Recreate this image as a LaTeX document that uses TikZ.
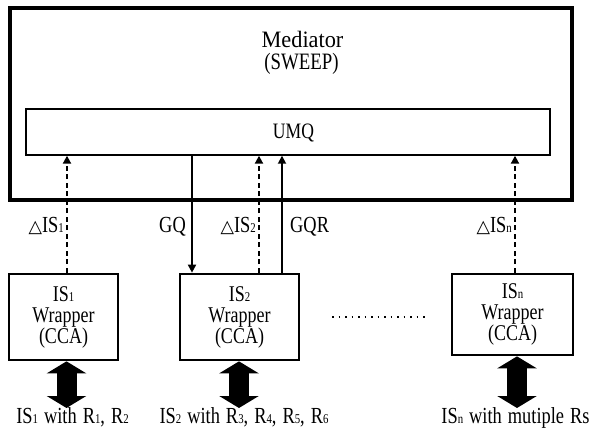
\documentclass[tikz,border=0pt]{standalone}
\usepackage{fontspec}
\setmainfont{Liberation Serif}[FakeStretch=0.8]
\newfontfamily\medfont{Liberation Serif}[FakeStretch=0.95]
\newfontfamily\trifont{DejaVu Sans}
\usetikzlibrary{arrows.meta}
% small index digits/letters set on the baseline
\newcommand\lowix[1]{{\fontsize{13.5}{13.5}\selectfont #1}}
\newcommand\dlt{{\trifont\fontsize{17.5}{17.5}\selectfont △}}
% wider word spacing for the source captions
\newcommand\widesp{\spaceskip=6pt\relax}
\begin{document}
\begin{tikzpicture}[x=1pt,y=-1pt,
  txt/.style={inner sep=0pt, font=\fontsize{23}{23}\selectfont},
  srctxt/.style={inner sep=0pt, font=\fontsize{23}{23}\selectfont\widesp},
  frame/.style={draw, line width=4pt, inner sep=0pt},
  umqbox/.style={draw, line width=1.4pt, inner sep=0pt},
  wbox/.style={draw, line width=2.7pt, inner sep=0pt, align=center,
    font=\fontsize{22.5}{21}\selectfont},
  query/.style={line width=1.7pt, -{Triangle[width=8pt,length=8pt]}},
  update/.style={line width=2pt, dash pattern=on 5pt off 3.5pt,
    -{Triangle[width=8pt,length=8pt]}},
  link/.style={line width=20pt,
    {Triangle[width=39pt,length=12pt]}-{Triangle[width=39pt,length=12pt]}},
  dots/.style={line width=1.8pt, dash pattern=on 1.8pt off 4.7pt}
]
\useasboundingbox (0,0) rectangle (589,430);

% mediator frame and its query manager
\node[frame, minimum width=562pt, minimum height=192pt] (med) at (291,104) {};
\node[txt, anchor=base, font=\medfont\fontsize{23.5}{23.5}\selectfont] (medname) at (302.5,48) {Mediator};
\node[txt, anchor=base, font=\fontsize{23.5}{23.5}\selectfont] (medsub) at (301.5,70) {(SWEEP)};
\node[umqbox, minimum width=524pt, minimum height=46pt] (umq) at (288,132) {};
\node[txt, anchor=base, font=\fontsize{22}{22}\selectfont] (umqname) at (293.5,139) {UMQ};

% wrappers
\node[wbox, minimum width=109pt, minimum height=86pt] (w1) at (63.5,317) {IS\lowix{1}\\Wrapper\\(CCA)};
\node[wbox, minimum width=119pt, minimum height=86pt] (w2) at (239.5,317) {IS\lowix{2}\\Wrapper\\(CCA)};
\node[wbox, minimum width=121pt, minimum height=81pt] (wn) at (512.5,314.5) {IS\lowix{n}\\Wrapper\\(CCA)};

% connectors between wrappers and UMQ
\draw[update] ([xshift=3.5pt]w1.north) -- ([xshift=3.5pt]w1.north |- umq.south);
\draw[query] ([xshift=-47.5pt]w2.north |- umq.south) -- ([xshift=-47.5pt]w2.north);
\draw[update] ([xshift=19.5pt]w2.north) -- ([xshift=19.5pt]w2.north |- umq.south);
\draw[query] ([xshift=42.5pt]w2.north) -- ([xshift=42.5pt]w2.north |- umq.south);
\draw[update] ([xshift=2.5pt]wn.north) -- ([xshift=2.5pt]wn.north |- umq.south);

% connector labels
\node[txt, anchor=base east] (l1) at (64,233) {\dlt IS\lowix{1}};
\node[txt, anchor=base east] (lgq) at (186,233) {GQ};
\node[txt, anchor=base east] (l2) at (256,233) {\dlt IS\lowix{2}};
\node[txt, anchor=base west] (lgqr) at (290,233) {GQR};
\node[txt, anchor=base east] (ln) at (512,233) {\dlt IS\lowix{n}};

% ellipsis between wrappers
\coordinate (dotl) at (332,317);
\coordinate (dotr) at (428,317);
\draw[dots] (dotl) -- (dotr);

% sources below the wrappers
\node[srctxt, anchor=base] (s1) at (72.5,423) {IS\lowix{1} with R\lowix{1}, R\lowix{2}};
\node[srctxt, anchor=base] (s2) at (244,423) {IS\lowix{2} with R\lowix{3}, R\lowix{4}, R\lowix{5}, R\lowix{6}};
\node[srctxt, anchor=base] (sn) at (515.5,423) {IS\lowix{n} with mutiple Rs};
\coordinate (e1) at (66.5,408);
\coordinate (e2) at (239,408);
\coordinate (en) at (517,408);
\draw[link] (e1 |- w1.south) -- (e1);
\draw[link] (e2 |- w2.south) -- (e2);
\draw[link] (en |- wn.south) -- (en);
\end{tikzpicture}
\end{document}
